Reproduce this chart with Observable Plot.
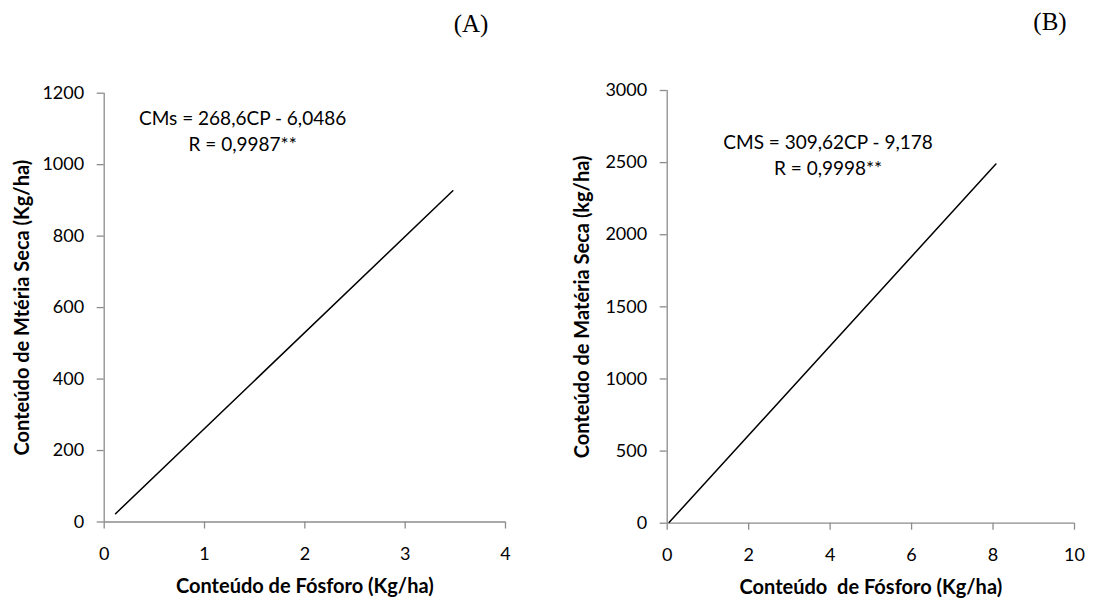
<!DOCTYPE html>
<html>
<head>
<meta charset="utf-8">
<script src="https://cdn.jsdelivr.net/npm/d3@7"></script>
<script src="https://cdn.jsdelivr.net/npm/@observablehq/plot@0.6"></script>
<style>
  html, body { margin: 0; padding: 0; background: #fff; }
  #wrap { position: relative; width: 1093px; height: 601px; font-family: Lato, "Open Sans", sans-serif; overflow: hidden; }
  .panel { position: absolute; top: 0; }
  .tag { position: absolute; width: 100px; text-align: center; z-index: 2;
         font-family: "Liberation Serif", "Times New Roman", serif; font-size: 25px; line-height: 25px; color: #000; }
</style>
</head>
<body>
<div id="wrap">
  <div class="panel" id="pa" style="left:0px;"></div>
  <div class="panel" id="pb" style="left:546px;"></div>
  <div class="tag" style="left:421px; top:11px;">(A)</div>
  <div class="tag" style="left:1000px; top:9px;">(B)</div>
</div>
<script>
// Panel A data: regression line endpoints
const xA = [0.113, 3.475];
const yA = [23.2, 927];
const xTicksA = [0, 1, 2, 3, 4];
const yTicksA = [0, 200, 400, 600, 800, 1000, 1200];
const eqA = "CMs = 268,6CP - 6,0486\nR = 0,9987**";

// Panel B data
const xB = [0.05, 8.07];
const yB = [6, 2490];
const xTicksB = [0, 2, 4, 6, 8, 10];
const yTicksB = [0, 500, 1000, 1500, 2000, 2500, 3000];
const eqB = "CMS = 309,62CP - 9,178\nR = 0,9998**";

const lineA = xA.map((x, i) => ({x, y: yA[i]}));
const lineB = xB.map((x, i) => ({x, y: yB[i]}));
const fmt = d3.format("d");
const grey = "#8c8c8c";
const FONT = "Lato, 'Open Sans', sans-serif";

function panel({data, xDomain, yDomain, xTicks, yTicks, xLabel, yLabel, eq, eqX, eqY, width, margins, yLabelOffset}) {
  return Plot.plot({
    width, height: 601,
    marginLeft: margins[0], marginRight: margins[1], marginTop: margins[2], marginBottom: margins[3],
    style: {fontFamily: FONT, fontSize: "18px", color: "#000", background: "transparent", overflow: "visible"},
    x: {domain: xDomain},
    y: {domain: yDomain},
    marks: [
      Plot.ruleX([xDomain[0]], {stroke: grey, strokeWidth: 1.3}),
      Plot.ruleY([yDomain[0]], {stroke: grey, strokeWidth: 1.3}),
      Plot.axisX({ticks: xTicks, tickFormat: fmt, tickSize: 7, tickPadding: 18, stroke: grey, strokeWidth: 1.3, fill: "#000",
        label: xLabel, labelAnchor: "center", labelArrow: "none", labelOffset: 71,
        fontSize: 18}),
      Plot.axisY({ticks: yTicks, tickFormat: fmt, tickSize: 7, tickPadding: 13, stroke: grey, strokeWidth: 1.3, fill: "#000",
        label: yLabel, labelAnchor: "center", labelArrow: "none", labelOffset: yLabelOffset,
        fontSize: 18}),
      Plot.line(data, {x: "x", y: "y", stroke: "#000", strokeWidth: 1.5}),
      Plot.text([eq], {x: eqX, y: eqY, text: d => d, textAnchor: "middle", fontSize: 19, lineHeight: 1.4, fill: "#000"})
    ]
  });
}

const a = panel({
  data: lineA, xDomain: [0, 4], yDomain: [0, 1200], xTicks: xTicksA, yTicks: yTicksA,
  xLabel: "Conteúdo de Fósforo (Kg/ha)", yLabel: "Conteúdo de Mtéria Seca (Kg/ha)",
  eq: eqA, eqX: 1.38, eqY: 1098, width: 546, margins: [103.7, 41, 92.7, 79.5], yLabelOffset: 89.5
});
const b = panel({
  data: lineB, xDomain: [0, 10], yDomain: [0, 3000], xTicks: xTicksB, yTicks: yTicksB,
  xLabel: "Conteúdo  de Fósforo (Kg/ha)", yLabel: "Conteúdo de Matéria Seca (kg/ha)",
  eq: eqB, eqX: 3.95, eqY: 2563, width: 547, margins: [120.7, 19, 90, 78.3], yLabelOffset: 92
});
// axis titles in bold, slightly larger
for (const svg of [a, b]) {
  svg.querySelectorAll('g[aria-label="x-axis label"] text, g[aria-label="y-axis label"] text').forEach(t => {
    t.setAttribute("font-weight", "bold");
    t.setAttribute("font-size", "20");
    t.setAttribute("xml:space", "preserve");
    t.style.whiteSpace = "pre";
  });
}
document.getElementById("pa").appendChild(a);
document.getElementById("pb").appendChild(b);
</script>
</body>
</html>
